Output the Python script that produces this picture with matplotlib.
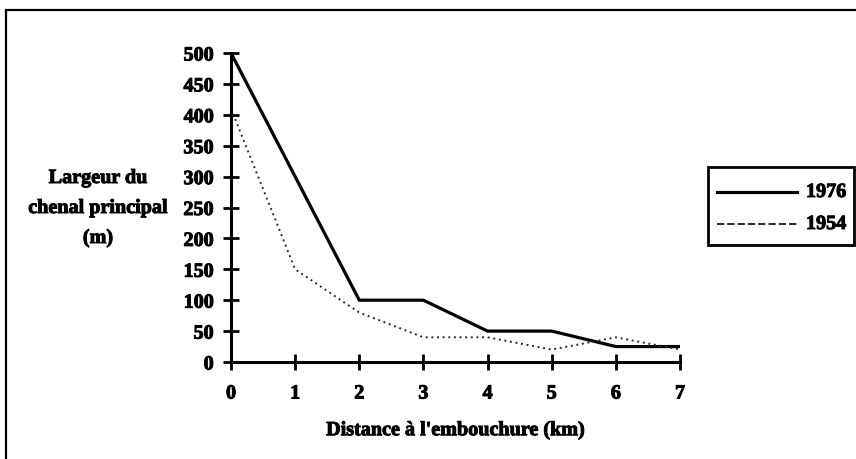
import matplotlib
matplotlib.use("Agg")
import matplotlib.pyplot as plt
import matplotlib.patheffects as pe
from matplotlib.patches import Rectangle
from matplotlib.lines import Line2D

distance_km = [0, 1, 2, 3, 4, 5, 6, 7]
largeur_1976 = [500, 300, 100, 100, 50, 50, 25, 25]
largeur_1954 = [410, 150, 80, 40, 40, 20, 40, 20]
y_ticks = [0, 50, 100, 150, 200, 250, 300, 350, 400, 450, 500]
series_labels = ["1976", "1954"]
y_label_lines = ["Largeur du", "chenal principal", "(m)"]
x_label = "Distance à l'embouchure (km)"

plt.rcParams["font.family"] = ["Liberation Serif", "DejaVu Serif"]
plt.rcParams["font.weight"] = "bold"

FS = 14.5
heavy = [pe.withStroke(linewidth=0.7, foreground="black")]
DOTS = (0, (1.0, 1.9))

fig = plt.figure(figsize=(8.56, 4.59), dpi=100)
W, H = 856, 459

# outer frame
fig.patches.append(Rectangle((6 / W, -0.05), (860 - 6) / W, (H - 10) / H + 0.05,
                             transform=fig.transFigure, fill=False,
                             edgecolor="black", linewidth=1.6))

ax = fig.add_axes([231 / W, 1 - 362 / H, (680 - 231) / W, (362 - 53) / H])
ax.plot(distance_km, largeur_1976, color="black", linewidth=2.3, solid_joinstyle="miter")
ax.plot(distance_km, largeur_1954, color="#2a2a2a", linewidth=1.4, linestyle=DOTS)

ax.set_xlim(0, 7)
ax.set_ylim(0, 500)
ax.set_xticks(distance_km)
ax.set_yticks(y_ticks)
for s in ["top", "right"]:
    ax.spines[s].set_visible(False)
for s in ["left", "bottom"]:
    ax.spines[s].set_linewidth(2.2)
ax.tick_params(axis="both", direction="inout", length=11, width=2.0, labelsize=FS)
ax.tick_params(axis="x", pad=10)
ax.tick_params(axis="y", pad=7)
for lbl in ax.get_xticklabels() + ax.get_yticklabels():
    lbl.set_fontweight("bold")
    lbl.set_path_effects(heavy)
ax.set_xlabel(x_label, fontsize=FS, fontweight="bold", labelpad=12, path_effects=heavy)

for i, line in enumerate(y_label_lines):
    fig.text(98 / W, 1 - (178 + 30 * i) / H, line, ha="center", va="center",
             fontsize=FS, fontweight="bold", path_effects=heavy)

# legend box
fig.patches.append(Rectangle((708 / W, 1 - 245 / H), (854 - 708) / W, (245 - 167) / H,
                             transform=fig.transFigure, fill=False,
                             edgecolor="black", linewidth=2))
handles = [Line2D([], [], color="black", linewidth=2.3),
           Line2D([], [], color="#2a2a2a", linewidth=1.4, linestyle=DOTS)]
for i, (h, lab) in enumerate(zip(handles, series_labels)):
    yy = 1 - (192 + 32 * i) / H
    fig.add_artist(Line2D([717 / W, 797 / W], [yy, yy], transform=fig.transFigure,
                          color=h.get_color(), linewidth=h.get_linewidth(),
                          linestyle=h.get_linestyle()))
    fig.text(806 / W, yy, lab, ha="left", va="center", fontsize=FS,
             fontweight="bold", path_effects=heavy)

fig.savefig("out.png", dpi=100)
